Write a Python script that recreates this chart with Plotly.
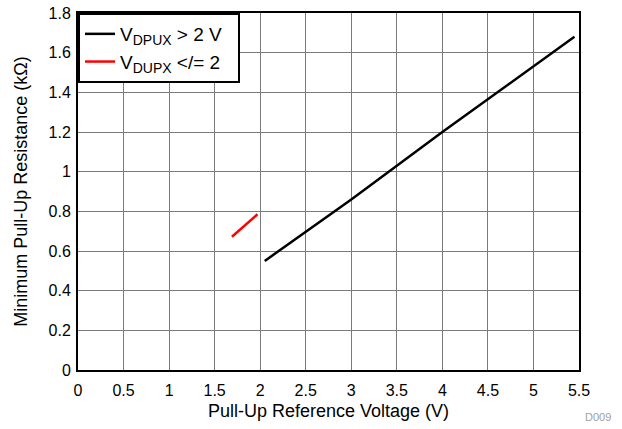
import plotly.graph_objects as go

# Данные
x_high = [2.05, 3.0, 4.0, 5.45]
y_high = [0.55, 0.86, 1.2, 1.68]
x_low = [1.69, 1.97]
y_low = [0.672, 0.785]

x_ticks = [0, 0.5, 1, 1.5, 2, 2.5, 3, 3.5, 4, 4.5, 5, 5.5]
x_tick_text = ["0", "0.5", "1", "1.5", "2", "2.5", "3", "3.5", "4", "4.5", "5", "5.5"]
y_ticks = [0, 0.2, 0.4, 0.6, 0.8, 1.0, 1.2, 1.4, 1.6, 1.8]
y_tick_text = ["0", "0.2", "0.4", "0.6", "0.8", "1", "1.2", "1.4", "1.6", "1.8"]

FONT = "Liberation Sans, Arial, sans-serif"
SUB = "<sub><span style='font-size:14px'>{}</span></sub>"

fig = go.Figure()
fig.add_trace(go.Scatter(
    x=x_high, y=y_high, mode="lines",
    name="V" + SUB.format("DPUX") + " > 2 V&nbsp;&nbsp;",
    line=dict(color="black", width=2.5),
))
fig.add_trace(go.Scatter(
    x=x_low, y=y_low, mode="lines",
    name="V" + SUB.format("DUPX") + " </= 2",
    line=dict(color="#ff0000", width=2.5),
))

axis_common = dict(
    showgrid=True, gridcolor="#7a7a7a", gridwidth=1,
    showline=True, linecolor="black", linewidth=2, mirror=True,
    zeroline=False, ticks="", tickfont=dict(size=16, color="black"),
    automargin=False,
)

fig.update_xaxes(
    range=[0, 5.5], tickvals=x_ticks, ticktext=x_tick_text,
    ticklabelstandoff=5,
    title=dict(text="Pull-Up Reference Voltage (V)", font=dict(size=18, color="black"), standoff=6),
    **axis_common,
)
fig.update_yaxes(
    range=[0, 1.8], tickvals=y_ticks, ticktext=y_tick_text,
    ticklabelstandoff=2,
    title=dict(text="Minimum Pull-Up Resistance (kΩ)", font=dict(size=18, color="black"), standoff=16),
    **axis_common,
)

fig.add_annotation(
    text="D009", xref="paper", yref="paper", x=1.068, y=-0.155,
    xanchor="right", yanchor="bottom", showarrow=False,
    font=dict(size=11, color="#a0a0a0", family=FONT),
)

fig.update_layout(
    width=622, height=429,
    margin=dict(l=78, r=43, t=13, b=59, autoexpand=False),
    paper_bgcolor="white", plot_bgcolor="white",
    font=dict(family=FONT, color="black"),
    legend=dict(
        x=0, y=1, xanchor="left", yanchor="top",
        bgcolor="white", bordercolor="black", borderwidth=2,
        font=dict(size=19, color="black"),
        tracegroupgap=0,
    ),
)

fig.write_html(
    "out.html",
    config={"displayModeBar": False},
    post_script="document.body.style.margin='0';",
)
